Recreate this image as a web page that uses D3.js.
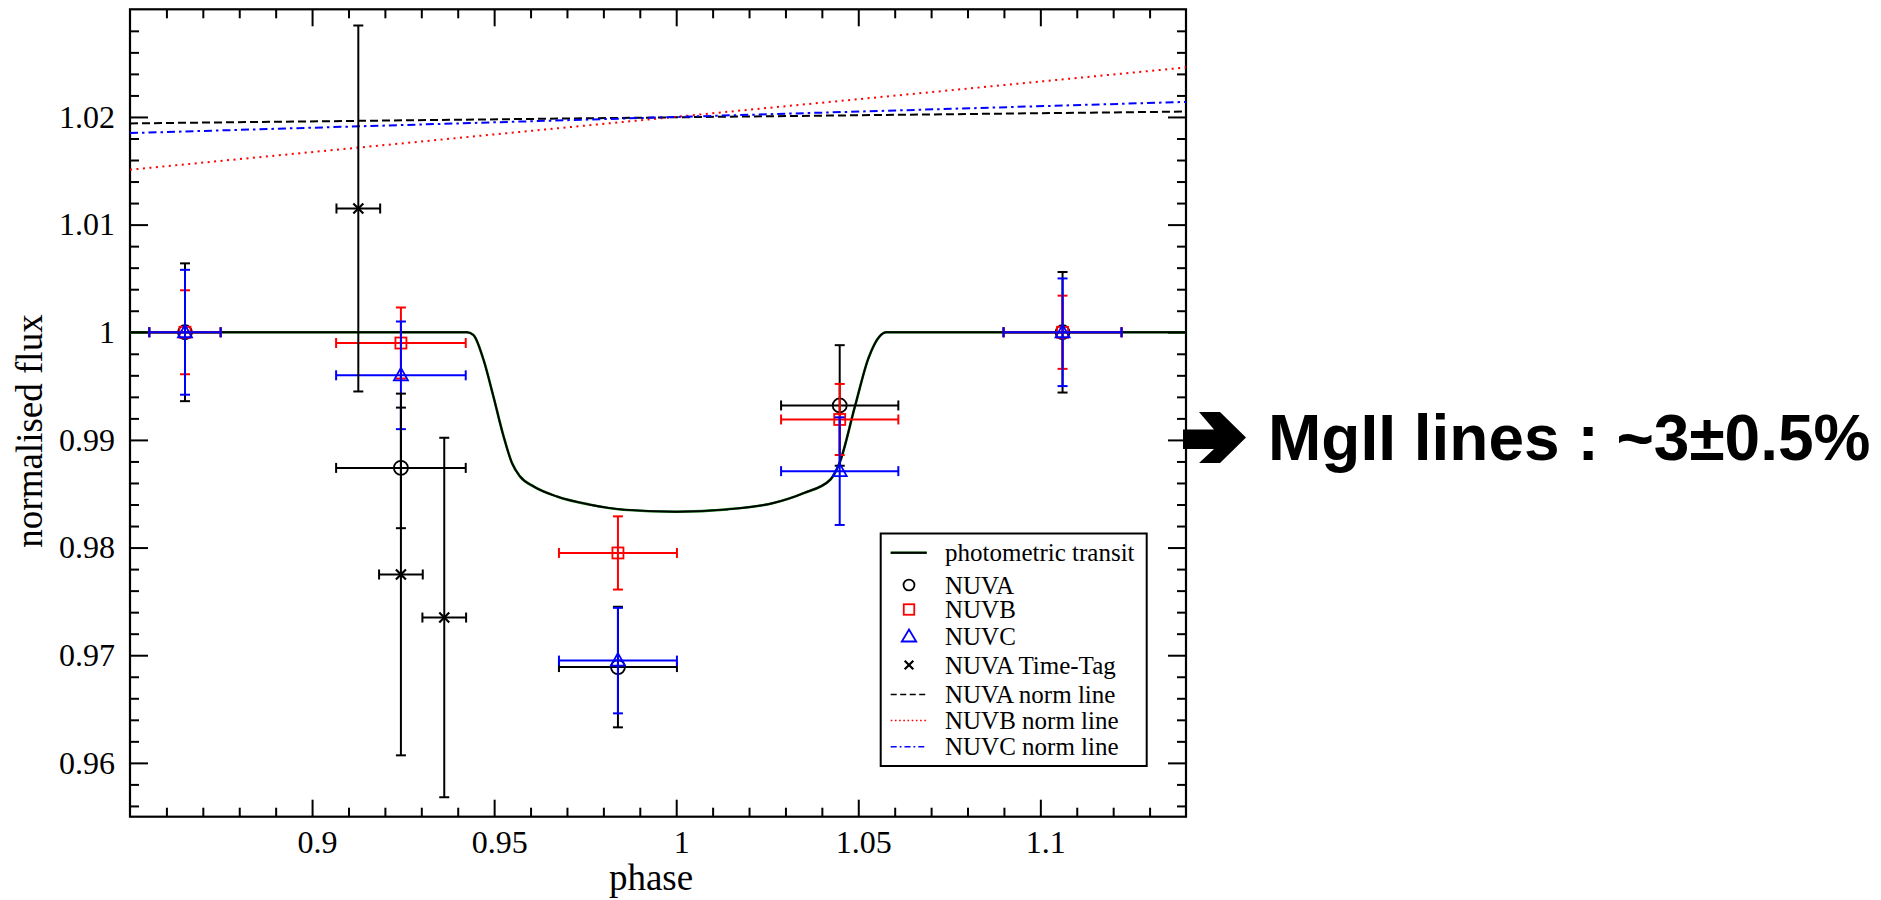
<!DOCTYPE html>
<html><head><meta charset="utf-8">
<script src="https://cdn.jsdelivr.net/npm/d3@7"></script>
<style>html,body{margin:0;padding:0;background:#fff;} svg{display:block;}</style>
</head><body><svg id="chart" width="1881" height="900"></svg>
<script>
// ---------------- data ----------------
const pointPhase    = [0.8651, 0.9244, 0.9840, 1.0449, 1.1061];
const pointPhaseErr = [0.0098, 0.0178, 0.0162, 0.0161, 0.0162];
const nuvaFlux = [1.0000, 0.9874, 0.9689, 0.9932, 1.0000];
const nuvaErr  = [0.0064, 0.0056, 0.0056, 0.0056, 0.0056];
const nuvbFlux = [1.0000, 0.9990, 0.9795, 0.9919, 1.0000];
const nuvbErr  = [0.0039, 0.0033, 0.0034, 0.0033, 0.0034];
const nuvcFlux = [1.0000, 0.9960, 0.9695, 0.9871, 1.0000];
const nuvcErr  = [0.0058, 0.0050, 0.0049, 0.0050, 0.0050];
const ttPhase    = [0.9127, 0.9244, 0.9363];
const ttPhaseErr = [0.0060, 0.0060, 0.0060];
const ttFlux     = [1.0115, 0.9775, 0.9735];
const ttErr      = [0.0170, 0.0168, 0.0167];
const transitPhase = [0.85, 0.9425, 0.9443, 0.9471, 0.9498, 0.9526, 0.9549, 0.9571, 0.9608, 0.9672, 0.9764, 0.9855, 1.0000, 1.0140, 1.0267, 1.0350, 1.0423, 1.0449, 1.0490, 1.0528, 1.0558, 1.0577, 1.14];
const transitFlux  = [1.0, 1.0, 0.99975, 0.99743, 0.99403, 0.99032, 0.98785, 0.98661, 0.98568, 0.98475, 0.98398, 0.98352, 0.98333, 0.98355, 0.98414, 0.98506, 0.98630, 0.98790, 0.99300, 0.99760, 0.99960, 1.0, 1.0];
const normPhase = [0.85, 1.14];
const nuvaNorm  = [1.0194, 1.0205];
const nuvbNorm  = [1.0151, 1.0246];
const nuvcNorm  = [1.0185, 1.0214];
const xTicks = [0.9, 0.95, 1, 1.05, 1.1];
const yTicks = [0.96, 0.97, 0.98, 0.99, 1, 1.01, 1.02];
const xLabel = "phase";
const yLabel = "normalised flux";
const legendLabels = ["photometric transit", "NUVA", "NUVB", "NUVC", "NUVA Time-Tag", "NUVA norm line", "NUVB norm line", "NUVC norm line"];
const annotation = "MgII lines : ~3±0.5%";

// ---------------- layout ----------------
const svg = d3.select("#chart");
const L = 130, R = 1186, T = 9.3, B = 816.7;
const x = d3.scaleLinear().domain([0.85, 1.14]).range([L, R]);
const y = d3.scaleLinear().domain([0.955, 1.03]).range([B, T]);
const serif = "'Liberation Serif', 'Times New Roman', Times, serif";
const BLACK = "#000", RED = "#ff0000", BLUE = "#0000ff", GREEN = "#1c8a1c";

svg.append("rect").attr("width", 1881).attr("height", 900).attr("fill", "#fff");

svg.append("defs").append("clipPath").attr("id", "plotclip")
  .append("rect").attr("x", L).attr("y", T).attr("width", R - L).attr("height", B - T);

// minor tick values
const xMinor = d3.range(86, 114).map(v => v / 100).filter(v => !xTicks.some(t => Math.abs(t - v) < 1e-9));
const yMinor = d3.range(478, 515).map(v => v / 500).filter(v => !yTicks.some(t => Math.abs(t - v) < 1e-9));

function styleAxis(g) {
  g.select(".domain").remove();
  g.selectAll(".tick line").attr("stroke", BLACK).attr("stroke-width", 2);
  g.selectAll(".tick text").attr("font-family", serif).attr("font-size", 32).attr("fill", BLACK);
}
// bottom
svg.append("g").attr("transform", `translate(0,${B})`)
  .call(d3.axisBottom(x).tickValues(xTicks).tickSize(-17).tickPadding(13.6).tickFormat(d3.format("")))
  .call(styleAxis).call(g => g.selectAll(".tick text").attr("dx", 5));
svg.append("g").attr("transform", `translate(0,${B})`)
  .call(d3.axisBottom(x).tickValues(xMinor).tickSize(-9).tickFormat(""))
  .call(styleAxis);
// top
svg.append("g").attr("transform", `translate(0,${T})`)
  .call(d3.axisTop(x).tickValues(xTicks).tickSize(-17).tickFormat(""))
  .call(styleAxis);
svg.append("g").attr("transform", `translate(0,${T})`)
  .call(d3.axisTop(x).tickValues(xMinor).tickSize(-9).tickFormat(""))
  .call(styleAxis);
// left
svg.append("g").attr("transform", `translate(${L},0)`)
  .call(d3.axisLeft(y).tickValues(yTicks).tickSize(-18).tickPadding(15).tickFormat(d3.format("")))
  .call(styleAxis);
svg.append("g").attr("transform", `translate(${L},0)`)
  .call(d3.axisLeft(y).tickValues(yMinor).tickSize(-9).tickFormat(""))
  .call(styleAxis);
// right
svg.append("g").attr("transform", `translate(${R},0)`)
  .call(d3.axisRight(y).tickValues(yTicks).tickSize(-18).tickFormat(""))
  .call(styleAxis);
svg.append("g").attr("transform", `translate(${R},0)`)
  .call(d3.axisRight(y).tickValues(yMinor).tickSize(-9).tickFormat(""))
  .call(styleAxis);

// frame
svg.append("rect").attr("x", L).attr("y", T).attr("width", R - L).attr("height", B - T)
  .attr("fill", "none").attr("stroke", BLACK).attr("stroke-width", 2.2);

// axis titles
svg.append("text").attr("x", 651).attr("y", 890).attr("text-anchor", "middle")
  .attr("font-family", serif).attr("font-size", 37).text(xLabel);
svg.append("text").attr("transform", "translate(42,431) rotate(-90)").attr("text-anchor", "middle")
  .attr("font-family", serif).attr("font-size", 37).text(yLabel);

const plot = svg.append("g").attr("clip-path", "url(#plotclip)");

// norm lines
const normLine = d3.line().x((d, i) => x(normPhase[i])).y(d => y(d));
plot.append("path").datum(nuvaNorm).attr("d", normLine).attr("fill", "none")
  .attr("stroke", BLACK).attr("stroke-width", 2).attr("stroke-dasharray", "8,4");
plot.append("path").datum(nuvbNorm).attr("d", normLine).attr("fill", "none")
  .attr("stroke", RED).attr("stroke-width", 2).attr("stroke-dasharray", "2,4.5");
plot.append("path").datum(nuvcNorm).attr("d", normLine).attr("fill", "none")
  .attr("stroke", BLUE).attr("stroke-width", 2).attr("stroke-dasharray", "8,4,2.5,4");

// transit
const transitData = transitPhase.map((p, i) => [p, transitFlux[i]]);
const tLine = d3.line().x(d => x(d[0])).y(d => y(d[1])).curve(d3.curveMonotoneX);
plot.append("path").datum(transitData).attr("d", tLine).attr("fill", "none")
  .attr("stroke", GREEN).attr("stroke-width", 2.6);
plot.append("path").datum(transitData).attr("d", tLine).attr("fill", "none")
  .attr("stroke", BLACK).attr("stroke-width", 1.9);

// error bars & markers
const CAP = 5;
function errorBars(g, ph, phe, fl, fe, color) {
  ph.forEach((p, i) => {
    const cx = x(p), cy = y(fl[i]);
    const x0 = x(p - phe[i]), x1 = x(p + phe[i]);
    const y0 = y(fl[i] - fe[i]), y1 = y(fl[i] + fe[i]);
    const segs = [
      [x0, cy, x1, cy], [x0, cy - CAP, x0, cy + CAP], [x1, cy - CAP, x1, cy + CAP],
      [cx, y0, cx, y1], [cx - CAP, y0, cx + CAP, y0], [cx - CAP, y1, cx + CAP, y1]
    ];
    segs.forEach(s => g.append("line").attr("x1", s[0]).attr("y1", s[1]).attr("x2", s[2]).attr("y2", s[3])
      .attr("stroke", color).attr("stroke-width", 2));
  });
}
function marker(g, type, cx, cy, color, big) {
  const k = big ? 1 : 0.78;
  if (type === "circle") {
    g.append("circle").attr("cx", cx).attr("cy", cy).attr("r", 7 * k).attr("fill", "none")
      .attr("stroke", color).attr("stroke-width", 1.8);
  } else if (type === "square") {
    const s = (big ? 11 : 10.5);
    g.append("rect").attr("x", cx - s / 2).attr("y", cy - s / 2).attr("width", s).attr("height", s)
      .attr("fill", "none").attr("stroke", color).attr("stroke-width", 1.8);
  } else if (type === "triangle") {
    const w = big ? 7 : 7.2, up = big ? 7.5 : 6.5, dn = big ? 5 : 5.5;
    g.append("path").attr("d", `M${cx},${cy - up}L${cx + w},${cy + dn}L${cx - w},${cy + dn}Z`)
      .attr("fill", "none").attr("stroke", color).attr("stroke-width", 1.8).attr("stroke-linejoin", "miter");
  } else if (type === "x") {
    const r = big ? 5 : 4.3;
    g.append("path").attr("d", `M${cx - r},${cy - r}L${cx + r},${cy + r}M${cx - r},${cy + r}L${cx + r},${cy - r}`)
      .attr("stroke", color).attr("stroke-width", 2.2);
  }
}
const series = [
  {fl: nuvaFlux, fe: nuvaErr, color: BLACK, m: "circle"},
  {fl: nuvbFlux, fe: nuvbErr, color: RED, m: "square"},
  {fl: nuvcFlux, fe: nuvcErr, color: BLUE, m: "triangle"}
];
series.forEach(s => {
  const g = plot.append("g");
  errorBars(g, pointPhase, pointPhaseErr, s.fl, s.fe, s.color);
  pointPhase.forEach((p, i) => marker(g, s.m, x(p), y(s.fl[i]), s.color, true));
});
const gtt = plot.append("g");
errorBars(gtt, ttPhase, ttPhaseErr, ttFlux, ttErr, BLACK);
ttPhase.forEach((p, i) => marker(gtt, "x", x(p), y(ttFlux[i]), BLACK, true));

// legend
const leg = svg.append("g");
leg.append("rect").attr("x", 880.7).attr("y", 533.5).attr("width", 266).attr("height", 232.5)
  .attr("fill", "#fff").attr("stroke", BLACK).attr("stroke-width", 2);
const rowY = [552.7, 585, 609.5, 636, 665, 694.5, 720.5, 746.7];
const lx0 = 890.7, lx1 = 926.7, lmx = 909, ltx = 945;
legendLabels.forEach((lab, i) => {
  leg.append("text").attr("x", ltx).attr("y", rowY[i] + 8.5).attr("font-family", serif)
    .attr("font-size", 25).attr("fill", BLACK).text(lab);
});
leg.append("line").attr("x1", lx0).attr("x2", lx1).attr("y1", rowY[0]).attr("y2", rowY[0])
  .attr("stroke", GREEN).attr("stroke-width", 2.6);
leg.append("line").attr("x1", lx0).attr("x2", lx1).attr("y1", rowY[0]).attr("y2", rowY[0])
  .attr("stroke", BLACK).attr("stroke-width", 1.9);
marker(leg, "circle", lmx, rowY[1], BLACK, false);
marker(leg, "square", lmx, rowY[2], RED, false);
marker(leg, "triangle", lmx, rowY[3], BLUE, false);
marker(leg, "x", lmx, rowY[4], BLACK, false);
[[BLACK, "6,3.5"], [RED, "1.6,2.6"], [BLUE, "6,3,1.8,3"]].forEach((st, j) => {
  leg.append("line").attr("x1", lx0).attr("x2", lx1).attr("y1", rowY[5 + j]).attr("y2", rowY[5 + j])
    .attr("stroke", st[0]).attr("stroke-width", 1.6).attr("stroke-dasharray", st[1]);
});

// annotation
svg.append("path")
  .attr("d", "M1183,429.5L1214,429.5L1199,412L1220,412L1246,437.5L1220,463L1199,463L1214,449L1183,449Z")
  .attr("fill", BLACK);
svg.append("text").attr("x", 1268).attr("y", 460)
  .attr("font-family", "'Liberation Sans', Arial, Helvetica, sans-serif").attr("font-weight", "bold")
  .attr("font-size", 64).attr("fill", BLACK).text(annotation);
</script></body></html>
